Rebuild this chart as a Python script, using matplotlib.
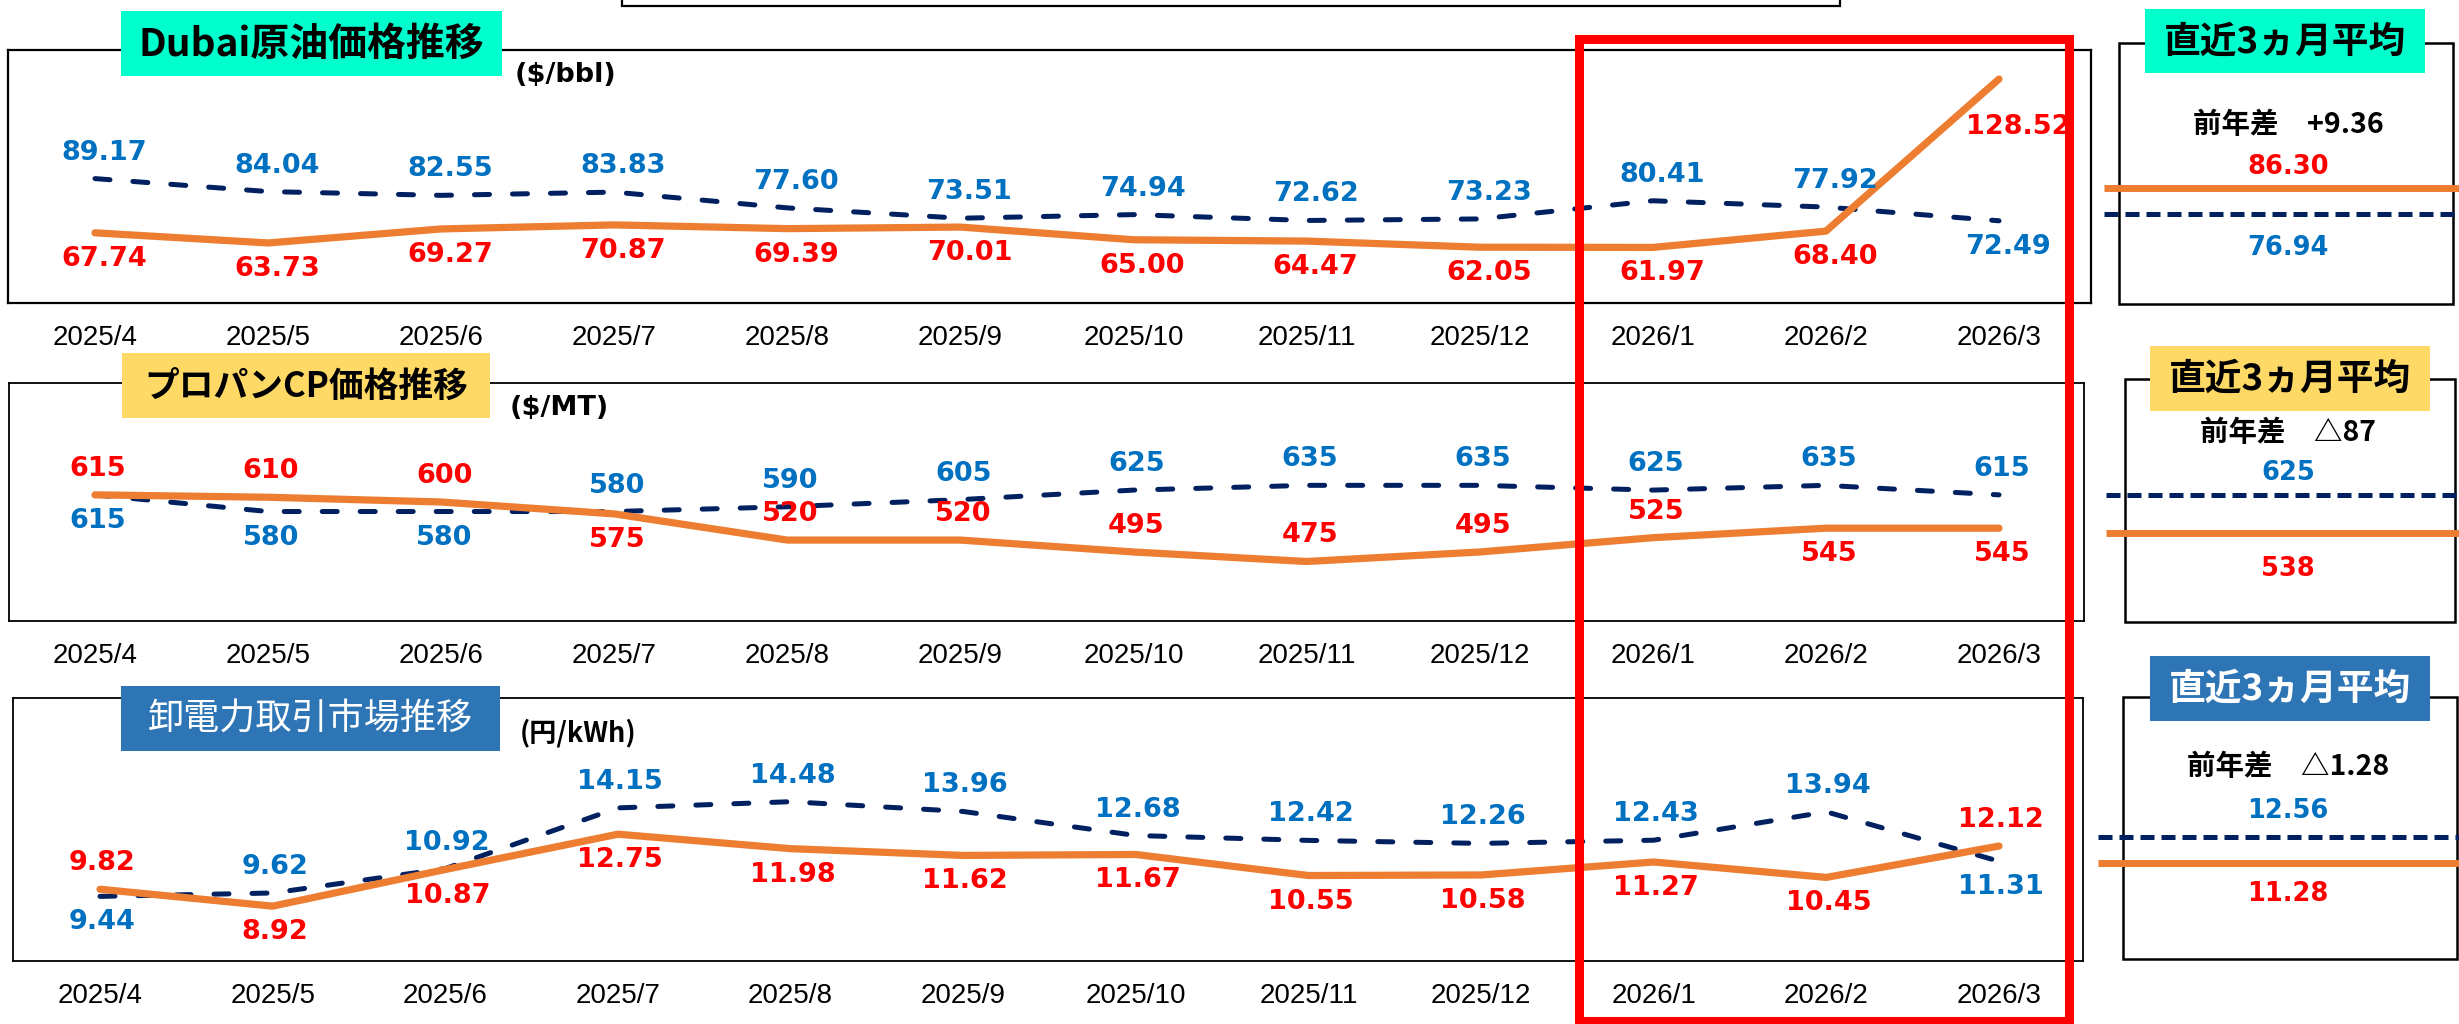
import matplotlib
matplotlib.use("Agg")
import matplotlib.pyplot as plt
from matplotlib.patches import Rectangle

# ---------------- data ----------------
months = ["2025/4", "2025/5", "2025/6", "2025/7", "2025/8", "2025/9",
          "2025/10", "2025/11", "2025/12", "2026/1", "2026/2", "2026/3"]

dubai_cur = [67.74, 63.73, 69.27, 70.87, 69.39, 70.01, 65.00, 64.47, 62.05, 61.97, 68.40, 128.52]
dubai_prev = [89.17, 84.04, 82.55, 83.83, 77.60, 73.51, 74.94, 72.62, 73.23, 80.41, 77.92, 72.49]

propane_cur = [615, 610, 600, 575, 520, 520, 495, 475, 495, 525, 545, 545]
propane_prev = [615, 580, 580, 580, 590, 605, 625, 635, 635, 625, 635, 615]

power_cur = [9.82, 8.92, 10.87, 12.75, 11.98, 11.62, 11.67, 10.55, 10.58, 11.27, 10.45, 12.12]
power_prev = [9.44, 9.62, 10.92, 14.15, 14.48, 13.96, 12.68, 12.42, 12.26, 12.43, 13.94, 11.31]

titles = ["Dubai原油価格推移", "プロパンCP価格推移", "卸電力取引市場推移"]
units = ["($/bbl)", "($/MT)", "(円/kWh)"]
decimals = [2, 0, 2]
panel_title = "直近3ヵ月平均"
diff_label = "前年差"

# label side: 'a' above the point, 'b' below
dubai_cur_side = ['b'] * 12
dubai_prev_side = ['a'] * 11 + ['b']
propane_cur_side = ['a', 'a', 'a', 'b', 'a', 'a', 'a', 'a', 'a', 'a', 'b', 'b']
propane_prev_side = ['b', 'b', 'b'] + ['a'] * 9
power_cur_side = ['a'] + ['b'] * 10 + ['a']
power_prev_side = ['b'] + ['a'] * 10 + ['b']

# ---------------- style / layout ----------------
W, H = 2459, 1024
PX = 0.72  # points per pixel at dpi 100
ORANGE = '#ED7D31'
NAVY = '#002060'
RED = '#FF0000'
BLUE = '#0070C0'
TITLE_BG = ['#00FFCC', '#FFD966', '#2E75B6']
TITLE_FG = ['black', 'black', 'white']
TITLE_WEIGHT = ['bold', 'bold', 'normal']
TITLE_SIZE = [28, 25, 26]
CJK = ['Noto Sans CJK JP', 'DejaVu Sans']

charts = [
    dict(frame=(8, 50, 2091, 303), x0=95, ylim=(40, 140), frame_lw=1.6,
         tbox=(121, 11, 502, 76), unit_xy=(515, 75), label_dx=9),
    dict(frame=(9, 383, 2084, 621), x0=95, ylim=(350, 850), frame_lw=1.3,
         tbox=(122, 353, 490, 418), unit_xy=(510, 408), label_dx=3),
    dict(frame=(13, 698, 2083, 961), x0=100, ylim=(6, 20), frame_lw=1.3,
         tbox=(121, 686, 500, 751), unit_xy=(520, 733), label_dx=2),
]
X_LAST = 1999

panels = [
    dict(box=(2119, 43, 2453, 304), tbox=(2145, 9, 2425, 73), cx=2288,
         diff_y=125, rows=(167, 188, 214, 248), line_x0=2104),
    dict(box=(2125, 379, 2455, 622), tbox=(2150, 346, 2430, 411), cx=2288,
         diff_y=433, rows=(473, 495, 533, 569), line_x0=2106),
    dict(box=(2123, 697, 2457, 959), tbox=(2150, 656, 2430, 721), cx=2288,
         diff_y=767, rows=(811, 837, 863, 894), line_x0=2098),
]
RED_BOX = (1579, 39, 2069, 1021)
TOP_BOX = (622, -20, 1840, 6)

LABEL_DY = 26  # px
special_offsets = {(0, 'cur', 11): (19, 48)}

series = [
    (dubai_cur, dubai_prev, dubai_cur_side, dubai_prev_side),
    (propane_cur, propane_prev, propane_cur_side, propane_prev_side),
    (power_cur, power_prev, power_cur_side, power_prev_side),
]

fig = plt.figure(figsize=(W / 100, H / 100), dpi=100)
fig.patch.set_facecolor('white')


def px_axes(x0, y0, x1, y1, **kw):
    return fig.add_axes([x0 / W, 1 - y1 / H, (x1 - x0) / W, (y1 - y0) / H], **kw)


def fmt(v, d):
    return f"{v:.{d}f}"


xs = list(range(len(months)))
for ci, (cfg, (cur, prev, cside, pside)) in enumerate(zip(charts, series)):
    fx0, fy0, fx1, fy1 = cfg['frame']
    ax = px_axes(fx0, fy0, fx1, fy1)
    step = (X_LAST - cfg['x0']) / (len(months) - 1)
    ax.set_xlim((fx0 - cfg['x0']) / step, (fx1 - cfg['x0']) / step)
    ax.set_ylim(*cfg['ylim'])
    ax.set_yticks([])
    ax.set_xticks(xs)
    ax.set_xticklabels(months, fontsize=20, family='Liberation Sans')
    ax.tick_params(axis='x', length=0, pad=16)
    for s in ax.spines.values():
        s.set_linewidth(cfg['frame_lw'])
        s.set_color('black')

    ax.plot(xs, prev, color=NAVY, lw=3.6, dashes=(3.0, 4.6),
            dash_capstyle='round', zorder=3)
    ax.plot(xs, cur, color=ORANGE, lw=5.2, solid_capstyle='round',
            solid_joinstyle='round', zorder=4)

    d = decimals[ci]
    for name, vals, sides, col in (('prev', prev, pside, BLUE), ('cur', cur, cside, RED)):
        for i, v in enumerate(vals):
            dx, dy = special_offsets.get(
                (ci, name, i),
                (cfg['label_dx'], -LABEL_DY if sides[i] == 'a' else LABEL_DY))
            ax.annotate(fmt(v, d), (i, v), xytext=(dx * PX, -dy * PX),
                        textcoords='offset points', ha='center', va='center',
                        fontsize=19.5, fontweight='bold', color=col,
                        family='DejaVu Sans', zorder=6)

# ---------------- overlay in pixel coordinates ----------------
ov = fig.add_axes([0, 0, 1, 1], zorder=10)
ov.set_xlim(0, W)
ov.set_ylim(H, 0)
ov.axis('off')


def rect(box, **kw):
    x0, y0, x1, y1 = box
    ov.add_patch(Rectangle((x0, y0), x1 - x0, y1 - y0, **kw))


rect(TOP_BOX, fill=False, edgecolor='black', lw=1.6)

for ci, cfg in enumerate(charts):
    rect(cfg['tbox'], facecolor=TITLE_BG[ci], edgecolor='none')
    tx0, ty0, tx1, ty1 = cfg['tbox']
    ov.text((tx0 + tx1) / 2, (ty0 + ty1) / 2 + 1, titles[ci], ha='center', va='center',
            fontsize=TITLE_SIZE[ci], fontweight=TITLE_WEIGHT[ci],
            color=TITLE_FG[ci], family=CJK)
    ux, uy = cfg['unit_xy']
    ov.text(ux, uy, units[ci], ha='left', va='center', fontsize=19.5,
            fontweight='bold', family=CJK if ci == 2 else 'DejaVu Sans')

for ci, (pcfg, (cur, prev, _, _)) in enumerate(zip(panels, series)):
    d = decimals[ci]
    cur_avg = round(sum(cur[-3:]) / 3, d)
    prev_avg = round(sum(prev[-3:]) / 3, d)
    diff = round(cur_avg - prev_avg, d)
    diff_txt = ("+" if diff >= 0 else "△") + fmt(abs(diff), d)

    rect(pcfg['box'], fill=False, edgecolor='black', lw=1.8)
    rect(pcfg['tbox'], facecolor=TITLE_BG[ci], edgecolor='none')
    tx0, ty0, tx1, ty1 = pcfg['tbox']
    ov.text((tx0 + tx1) / 2, (ty0 + ty1) / 2 + 1, panel_title, ha='center', va='center',
            fontsize=26.5, fontweight='bold', color=TITLE_FG[ci], family=CJK)
    ov.text(pcfg['cx'], pcfg['diff_y'], diff_label + "\u3000" + diff_txt,
            ha='center', va='center', fontsize=20.5, fontweight='bold',
            color='black', family=CJK)

    v_up, l_up, l_low, v_low = pcfg['rows']
    if cur_avg >= prev_avg:
        order = [(cur_avg, RED, 'cur'), (prev_avg, BLUE, 'prev')]
    else:
        order = [(prev_avg, BLUE, 'prev'), (cur_avg, RED, 'cur')]
    for (val, col, kind), vy, ly in zip(order, (v_up, v_low), (l_up, l_low)):
        ov.text(pcfg['cx'], vy, fmt(val, d), ha='center', va='center',
                fontsize=18.5, fontweight='bold', color=col, family='DejaVu Sans')
        if kind == 'cur':
            ov.plot([pcfg['line_x0'], W], [ly, ly], color=ORANGE, lw=5.0,
                    solid_capstyle='butt')
        else:
            ov.plot([pcfg['line_x0'], W], [ly, ly], color=NAVY, lw=3.6,
                    dashes=(2.8, 1.4), dash_capstyle='butt')

rect(RED_BOX, fill=False, edgecolor=RED, lw=6.5)

fig.savefig("out.png", dpi=100, facecolor='white')
